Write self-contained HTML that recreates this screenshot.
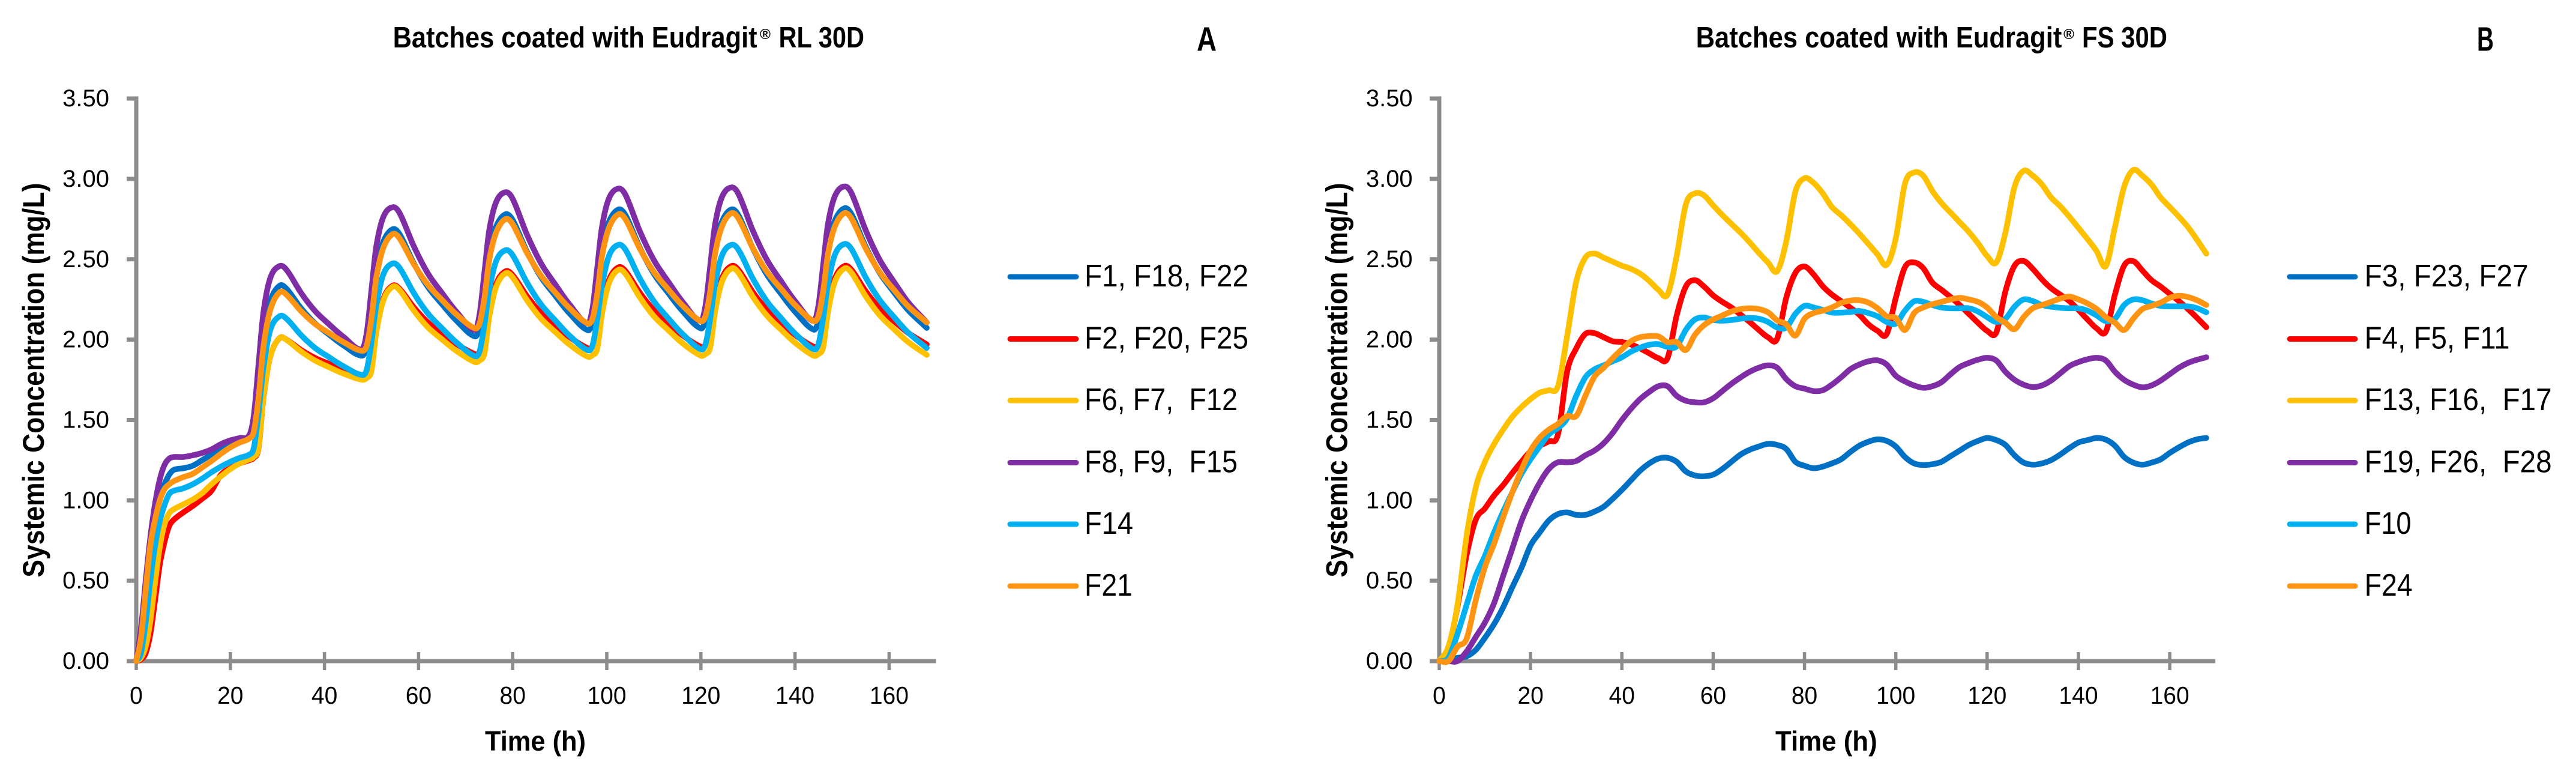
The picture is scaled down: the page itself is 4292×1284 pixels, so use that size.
<!DOCTYPE html>
<html lang="en">
<head>
<meta charset="utf-8">
<title>Systemic concentration of Eudragit coated batches</title>
<style>
html,body{margin:0;padding:0;background:#fff;}
svg{display:block;}
text{font-family:"Liberation Sans",sans-serif;fill:#000;white-space:pre;}
.b{font-weight:bold;}
.leg{font-size:52px;}
.ttl{font-size:49px;font-weight:bold;}
.reg{font-size:24px;font-weight:bold;}
.ltr{font-size:57px;font-weight:bold;}
.ylab{font-size:50px;font-weight:bold;}
.xlab{font-size:46px;font-weight:bold;}
</style>
</head>
<body>
<svg id="fig" xmlns="http://www.w3.org/2000/svg" width="4292" height="1284" viewBox="0 0 4292 1284">
  <rect width="4292" height="1284" fill="#fff"/>

  <g>
    <g>
      <text class="ttl" x="654.6" y="79" textLength="607" lengthAdjust="spacingAndGlyphs">Batches coated with Eudragit</text>
      <text class="reg" x="1266" y="65" textLength="18" lengthAdjust="spacingAndGlyphs">®</text>
      <text class="ttl" x="1297.5" y="79" textLength="142.5" lengthAdjust="spacingAndGlyphs">RL 30D</text>
    </g>
    <text class="ltr" x="1994" y="84.5" textLength="33" lengthAdjust="spacingAndGlyphs">A</text>
    <text class="ylab" transform="translate(73,961.6) rotate(-90)" x="0" y="0" textLength="657" lengthAdjust="spacingAndGlyphs">Systemic Concentration (mg/L)</text>
    <text class="xlab" x="808" y="1250" textLength="168" lengthAdjust="spacingAndGlyphs">Time (h)</text>
    <g id="plotA"></g>
    <g stroke-linecap="round">
      <g><line x1="1683" x2="1793" y1="461" y2="461" stroke="#0070C4" stroke-width="9"/><text class="leg" x="1807" y="477" textLength="273" lengthAdjust="spacingAndGlyphs">F1, F18, F22</text></g>
      <g><line x1="1683" x2="1793" y1="564.5" y2="564.5" stroke="#FF0000" stroke-width="9"/><text class="leg" x="1807" y="580.5" textLength="273" lengthAdjust="spacingAndGlyphs">F2, F20, F25</text></g>
      <g><line x1="1683" x2="1793" y1="667" y2="667" stroke="#FFC000" stroke-width="9"/><text class="leg" x="1807" y="683" textLength="255" lengthAdjust="spacingAndGlyphs">F6, F7,  F12</text></g>
      <g><line x1="1683" x2="1793" y1="770.5" y2="770.5" stroke="#7F2DA5" stroke-width="9"/><text class="leg" x="1807" y="786.5" textLength="255" lengthAdjust="spacingAndGlyphs">F8, F9,  F15</text></g>
      <g><line x1="1683" x2="1793" y1="873" y2="873" stroke="#00B0F0" stroke-width="9"/><text class="leg" x="1807" y="889" textLength="81" lengthAdjust="spacingAndGlyphs">F14</text></g>
      <g><line x1="1683" x2="1793" y1="976" y2="976" stroke="#FF9412" stroke-width="9"/><text class="leg" x="1807" y="992" textLength="80" lengthAdjust="spacingAndGlyphs">F21</text></g>
    </g>
  </g>

  <g>
    <g>
      <text class="ttl" x="2825.6" y="79" textLength="609.8" lengthAdjust="spacingAndGlyphs">Batches coated with Eudragit</text>
      <text class="reg" x="3438" y="65" textLength="18" lengthAdjust="spacingAndGlyphs">®</text>
      <text class="ttl" x="3469" y="79" textLength="142" lengthAdjust="spacingAndGlyphs">FS 30D</text>
    </g>
    <text class="ltr" x="4127" y="84.5" textLength="28" lengthAdjust="spacingAndGlyphs">B</text>
    <text class="ylab" transform="translate(2244.5,961.6) rotate(-90)" x="0" y="0" textLength="657" lengthAdjust="spacingAndGlyphs">Systemic Concentration (mg/L)</text>
    <text class="xlab" x="2958" y="1250" textLength="169.7" lengthAdjust="spacingAndGlyphs">Time (h)</text>
    <g id="plotB"></g>
    <g stroke-linecap="round">
      <g><line x1="3815" x2="3924" y1="461" y2="461" stroke="#0070C4" stroke-width="9"/><text class="leg" x="3939.6" y="477" textLength="273" lengthAdjust="spacingAndGlyphs">F3, F23, F27</text></g>
      <g><line x1="3815" x2="3924" y1="564.5" y2="564.5" stroke="#FF0000" stroke-width="9"/><text class="leg" x="3939.6" y="580.5" textLength="242" lengthAdjust="spacingAndGlyphs">F4, F5, F11</text></g>
      <g><line x1="3815" x2="3924" y1="667" y2="667" stroke="#FFC000" stroke-width="9"/><text class="leg" x="3939.6" y="683" textLength="312" lengthAdjust="spacingAndGlyphs">F13, F16,  F17</text></g>
      <g><line x1="3815" x2="3924" y1="770.5" y2="770.5" stroke="#7F2DA5" stroke-width="9"/><text class="leg" x="3939.6" y="786.5" textLength="312" lengthAdjust="spacingAndGlyphs">F19, F26,  F28</text></g>
      <g><line x1="3815" x2="3924" y1="873" y2="873" stroke="#00B0F0" stroke-width="9"/><text class="leg" x="3939.6" y="889" textLength="78" lengthAdjust="spacingAndGlyphs">F10</text></g>
      <g><line x1="3815" x2="3924" y1="976" y2="976" stroke="#FF9412" stroke-width="9"/><text class="leg" x="3939.6" y="992" textLength="80" lengthAdjust="spacingAndGlyphs">F24</text></g>
    </g>
  </g>
</svg>

<script>
var yTickValues = [0, 0.5, 1, 1.5, 2, 2.5, 3, 3.5];
var yTickLabels = ["0.00", "0.50", "1.00", "1.50", "2.00", "2.50", "3.00", "3.50"];
var xTickValues = [0, 20, 40, 60, 80, 100, 120, 140, 160];
var xTickLabels = ["0", "20", "40", "60", "80", "100", "120", "140", "160"];

/* Chart A: time (h) and concentration (mg/L) */
var timeA = [0,1,2,3,4,5,6,7,8,10,12,14,16,18,20,22,24,25,26,27,28.5,30.5,32,35,38,41,44,48,49,50,51,52.5,54.5,56,59,62,65,68,72,73,74,75,76.5,78.5,80,83,86,89,92,96,97,98,99,100.5,102.5,104,107,110,113,116,120,121,122,123,124.5,126.5,128,131,134,137,140,144,145,146,147,148.5,150.5,152,155,158,161,164,168];
var a_F1 = [0,.16,.46,.74,.9,1.03,1.1,1.16,1.19,1.2,1.215,1.25,1.285,1.315,1.34,1.365,1.39,1.466,1.731,2.033,2.241,2.336,2.314,2.196,2.101,2.031,1.965,1.90,1.963,2.183,2.435,2.608,2.687,2.654,2.474,2.327,2.220,2.120,2.02,2.081,2.294,2.537,2.704,2.78,2.744,2.549,2.390,2.275,2.166,2.058,2.118,2.329,2.569,2.735,2.81,2.773,2.573,2.410,2.292,2.181,2.07,2.129,2.336,2.573,2.736,2.81,2.773,2.571,2.406,2.286,2.174,2.062,2.122,2.334,2.575,2.742,2.817,2.780,2.579,2.415,2.296,2.185,2.073];
var a_F2 = [0,.01,.05,.17,.38,.60,.74,.84,.88,.925,.965,1.01,1.06,1.16,1.20,1.23,1.25,1.265,1.326,1.63,1.896,2.01,1.998,1.936,1.886,1.849,1.815,1.78,1.791,1.836,2.058,2.253,2.336,2.315,2.20,2.106,2.038,1.974,1.91,1.920,1.962,2.168,2.348,2.425,2.401,2.272,2.166,2.090,2.018,1.946,1.956,1.996,2.198,2.374,2.45,2.425,2.292,2.183,2.104,2.029,1.955,1.965,2.005,2.207,2.383,2.458,2.433,2.297,2.186,2.106,2.030,1.955,1.965,2.005,2.207,2.383,2.458,2.434,2.302,2.194,2.116,2.043,1.97];
var a_F6 = [0,.02,.09,.25,.49,.71,.85,.92,.945,.975,1.005,1.045,1.10,1.15,1.195,1.23,1.255,1.270,1.331,1.633,1.897,2.01,1.997,1.927,1.870,1.828,1.789,1.75,1.762,1.808,2.04,2.243,2.33,2.307,2.18,2.076,2.001,1.931,1.86,1.871,1.915,2.137,2.330,2.413,2.387,2.247,2.132,2.049,1.971,1.893,1.904,1.947,2.164,2.354,2.435,2.408,2.264,2.146,2.061,1.980,1.90,1.911,1.954,2.172,2.362,2.443,2.416,2.269,2.150,2.063,1.981,1.90,1.911,1.954,2.172,2.362,2.443,2.416,2.271,2.152,2.066,1.986,1.905];
var a_F8 = [0,.2,.5,.77,.98,1.13,1.22,1.26,1.27,1.27,1.28,1.295,1.317,1.35,1.373,1.388,1.405,1.531,1.847,2.163,2.384,2.458,2.432,2.292,2.178,2.095,2.018,1.94,2.046,2.311,2.576,2.762,2.824,2.786,2.580,2.411,2.289,2.175,2.06,2.163,2.420,2.677,2.857,2.917,2.876,2.656,2.476,2.345,2.222,2.10,2.201,2.453,2.705,2.881,2.94,2.899,2.676,2.495,2.363,2.239,2.115,2.215,2.464,2.714,2.889,2.947,2.905,2.681,2.498,2.365,2.240,2.115,2.216,2.467,2.718,2.894,2.953,2.911,2.682,2.496,2.361,2.234,2.107];
var a_F14 = [0,.05,.24,.5,.72,.87,.97,1.04,1.06,1.075,1.10,1.135,1.175,1.21,1.24,1.265,1.285,1.328,1.543,1.819,2.060,2.146,2.128,2.029,1.948,1.890,1.835,1.78,1.815,1.988,2.210,2.405,2.474,2.445,2.289,2.162,2.070,1.984,1.897,1.930,2.095,2.306,2.490,2.556,2.525,2.357,2.220,2.121,2.027,1.934,1.967,2.131,2.341,2.524,2.59,2.558,2.382,2.239,2.135,2.038,1.94,1.973,2.135,2.343,2.525,2.59,2.558,2.382,2.239,2.135,2.038,1.94,1.973,2.137,2.346,2.530,2.595,2.563,2.388,2.246,2.142,2.045,1.948];
var a_F21 = [0,.14,.44,.72,.88,1.0,1.07,1.10,1.12,1.145,1.165,1.205,1.245,1.29,1.33,1.36,1.385,1.431,1.640,1.949,2.186,2.295,2.277,2.178,2.098,2.040,1.985,1.93,1.966,2.134,2.381,2.570,2.657,2.628,2.469,2.340,2.246,2.158,2.07,2.104,2.260,2.492,2.668,2.75,2.718,2.542,2.399,2.295,2.198,2.10,2.134,2.290,2.522,2.698,2.78,2.747,2.567,2.421,2.315,2.215,2.115,2.149,2.303,2.532,2.706,2.787,2.753,2.572,2.424,2.317,2.216,2.115,2.149,2.303,2.532,2.706,2.787,2.753,2.569,2.420,2.311,2.209,2.107];

/* Chart B: time (h) and concentration (mg/L) */
var timeB = [0,2,4,6,8,10,12,14,16,18,20,22,24,26,28,30,32,34,36,38,40,42,44,46,48,50,52,54,56,58,60,62,64,66,68,70,72,74,76,78,80,82,84,86,88,90,92,94,96,98,100,102,104,106,108,110,112,114,116,118,120,122,124,126,128,130,132,134,136,138,140,142,144,146,148,150,152,154,156,158,160,162,164,166,168];
var b_F3 = [0,.005,.02,.03,.07,.145,.23,.335,.46,.58,.72,.80,.875,.915,.925,.91,.91,.93,.96,1.01,1.065,1.125,1.185,1.23,1.26,1.265,1.24,1.18,1.155,1.15,1.16,1.195,1.24,1.285,1.315,1.335,1.352,1.345,1.32,1.24,1.215,1.20,1.21,1.23,1.255,1.30,1.34,1.365,1.38,1.37,1.335,1.27,1.23,1.22,1.225,1.24,1.275,1.31,1.345,1.37,1.388,1.375,1.345,1.28,1.235,1.222,1.23,1.25,1.285,1.325,1.36,1.375,1.388,1.378,1.34,1.27,1.235,1.222,1.235,1.255,1.295,1.33,1.36,1.38,1.388];
var b_F4 = [0,.08,.34,.66,.88,.95,1.03,1.095,1.17,1.24,1.305,1.34,1.368,1.41,1.80,1.945,2.035,2.04,2.015,1.99,1.985,1.97,1.945,1.915,1.885,1.885,2.15,2.33,2.37,2.33,2.275,2.235,2.20,2.155,2.11,2.06,2.015,2.005,2.26,2.415,2.455,2.405,2.332,2.28,2.24,2.20,2.155,2.095,2.055,2.035,2.26,2.45,2.48,2.445,2.355,2.31,2.265,2.215,2.16,2.105,2.055,2.045,2.30,2.46,2.489,2.44,2.375,2.32,2.28,2.24,2.185,2.125,2.07,2.05,2.28,2.46,2.488,2.43,2.37,2.33,2.285,2.24,2.19,2.135,2.077];
var b_F13 = [0,.09,.35,.78,1.08,1.24,1.35,1.44,1.52,1.58,1.63,1.67,1.685,1.71,2.02,2.36,2.51,2.535,2.51,2.485,2.46,2.44,2.41,2.365,2.31,2.28,2.52,2.84,2.91,2.897,2.835,2.775,2.72,2.665,2.605,2.54,2.48,2.425,2.61,2.92,3.004,2.975,2.91,2.825,2.775,2.72,2.66,2.595,2.53,2.465,2.63,2.97,3.04,3.02,2.925,2.85,2.79,2.73,2.67,2.60,2.52,2.48,2.665,2.95,3.05,3.02,2.965,2.885,2.83,2.765,2.695,2.625,2.55,2.458,2.70,2.95,3.055,3.02,2.965,2.885,2.825,2.765,2.70,2.62,2.535];
var b_F19 = [0,0,0,.06,.15,.24,.36,.53,.70,.87,1.0,1.11,1.195,1.237,1.237,1.245,1.28,1.31,1.355,1.42,1.50,1.57,1.63,1.675,1.71,1.71,1.65,1.62,1.61,1.61,1.635,1.68,1.725,1.765,1.80,1.825,1.84,1.825,1.755,1.71,1.695,1.68,1.685,1.72,1.765,1.815,1.845,1.865,1.871,1.845,1.775,1.74,1.715,1.70,1.71,1.735,1.785,1.83,1.855,1.875,1.887,1.87,1.80,1.75,1.72,1.705,1.715,1.745,1.79,1.835,1.86,1.878,1.887,1.87,1.80,1.75,1.72,1.703,1.715,1.745,1.785,1.825,1.855,1.875,1.89];
var b_F10 = [0,.02,.17,.35,.53,.655,.80,.93,1.05,1.165,1.255,1.335,1.41,1.45,1.51,1.65,1.765,1.815,1.84,1.865,1.89,1.925,1.95,1.968,1.972,1.955,1.958,2.06,2.125,2.138,2.122,2.118,2.122,2.13,2.135,2.13,2.11,2.075,2.075,2.16,2.21,2.20,2.185,2.168,2.168,2.172,2.178,2.165,2.145,2.11,2.10,2.18,2.238,2.235,2.215,2.20,2.195,2.195,2.195,2.175,2.14,2.11,2.13,2.205,2.25,2.24,2.215,2.205,2.198,2.195,2.195,2.18,2.15,2.115,2.13,2.215,2.25,2.245,2.225,2.21,2.207,2.207,2.207,2.195,2.17];
var b_F24 = [0,0,.09,.14,.38,.585,.73,.895,1.05,1.19,1.31,1.39,1.44,1.475,1.525,1.525,1.65,1.77,1.825,1.885,1.94,1.99,2.015,2.022,2.02,1.984,1.985,1.935,2.03,2.09,2.125,2.15,2.175,2.19,2.195,2.19,2.17,2.12,2.095,2.025,2.13,2.165,2.18,2.20,2.228,2.243,2.245,2.23,2.195,2.145,2.135,2.06,2.165,2.20,2.22,2.235,2.25,2.26,2.25,2.235,2.20,2.14,2.105,2.065,2.14,2.195,2.215,2.235,2.255,2.268,2.25,2.225,2.19,2.14,2.105,2.06,2.13,2.19,2.21,2.23,2.26,2.273,2.265,2.245,2.215];

var seriesA = [
  {key: "f1-f18-f22", color: "#0070C4", values: a_F1},
  {key: "f2-f20-f25", color: "#FF0000", values: a_F2},
  {key: "f6-f7-f12", color: "#FFC000", values: a_F6},
  {key: "f8-f9-f15", color: "#7F2DA5", values: a_F8},
  {key: "f14", color: "#00B0F0", values: a_F14},
  {key: "f21", color: "#FF9412", values: a_F21}
];
var seriesB = [
  {key: "f3-f23-f27", color: "#0070C4", values: b_F3},
  {key: "f4-f5-f11", color: "#FF0000", values: b_F4},
  {key: "f13-f16-f17", color: "#FFC000", values: b_F13},
  {key: "f19-f26-f28", color: "#7F2DA5", values: b_F19},
  {key: "f10", color: "#00B0F0", values: b_F10},
  {key: "f24", color: "#FF9412", values: b_F24}
];

var NS = "http://www.w3.org/2000/svg";
var AXIS = "#8c8c8c";

function yScale(v) {
  return 1101 - v * 267.7;
}

function mk(tag, parent, attrs) {
  var el = document.createElementNS(NS, tag);
  for (var k in attrs) el.setAttribute(k, attrs[k]);
  parent.appendChild(el);
  return el;
}

function smoothPath(xs, ys) {
  var n = xs.length, m = [], i;
  for (i = 0; i < n; i++) {
    var a = Math.max(i - 1, 0), b = Math.min(i + 1, n - 1);
    m.push((ys[b] - ys[a]) / (xs[b] - xs[a]));
  }
  var d = "M" + xs[0].toFixed(1) + " " + ys[0].toFixed(1);
  for (i = 0; i < n - 1; i++) {
    var h = (xs[i + 1] - xs[i]) / 3;
    d += "C" + (xs[i] + h).toFixed(1) + " " + (ys[i] + m[i] * h).toFixed(1) + " " +
         (xs[i + 1] - h).toFixed(1) + " " + (ys[i + 1] - m[i + 1] * h).toFixed(1) + " " +
         xs[i + 1].toFixed(1) + " " + ys[i + 1].toFixed(1);
  }
  return d;
}

function drawChart(group, x0, pxPerHour, labelRight, tickLeft, times, series, suffix) {
  function xScale(t) { return x0 + t * pxPerHour; }
  var yAxis = mk("line", group, {x1: x0, x2: x0, y1: yScale(3.5) - 3.5, y2: yScale(0) + 3.5, stroke: AXIS, "stroke-width": 7});
  
  
  var xAxis = mk("line", group, {x1: tickLeft, x2: xScale(170), y1: yScale(0), y2: yScale(0), stroke: AXIS, "stroke-width": 7});
  
  

  yTickValues.forEach(function (v, i) {
    var tick = mk("line", group, {x1: tickLeft, x2: x0, y1: yScale(v), y2: yScale(v), stroke: AXIS, "stroke-width": 7});
    
    
    var lab = mk("text", group, {x: labelRight, y: yScale(v) + 13, "text-anchor": "end", "font-size": 40});
    lab.textContent = yTickLabels[i];
    
    
  });

  xTickValues.forEach(function (t, i) {
    var tick = mk("line", group, {x1: xScale(t), x2: xScale(t), y1: yScale(0) - 15, y2: yScale(0) + 15, stroke: AXIS, "stroke-width": 5.5});
    
    
    var txt = xTickLabels[i];
    var lab = mk("text", group, {x: xScale(t), y: 1172, "text-anchor": "middle", "font-size": 41, textLength: (txt.length * 21.7).toFixed(1), lengthAdjust: "spacingAndGlyphs"});
    lab.textContent = txt;
    
    
  });

  series.forEach(function (s) {
    var xs = times.map(xScale);
    var ys = s.values.map(yScale);
    var line = mk("path", group, {d: smoothPath(xs, ys), fill: "none", stroke: s.color, "stroke-width": 9.5, "stroke-linejoin": "round", "stroke-linecap": "round"});
    
    
  });
}

drawChart(document.getElementById("plotA"), 227, 7.84, 182, 211, timeA, seriesA, "a");
drawChart(document.getElementById("plotB"), 2398, 7.607, 2353.7, 2382, timeB, seriesB, "b");
</script>
</body>
</html>
